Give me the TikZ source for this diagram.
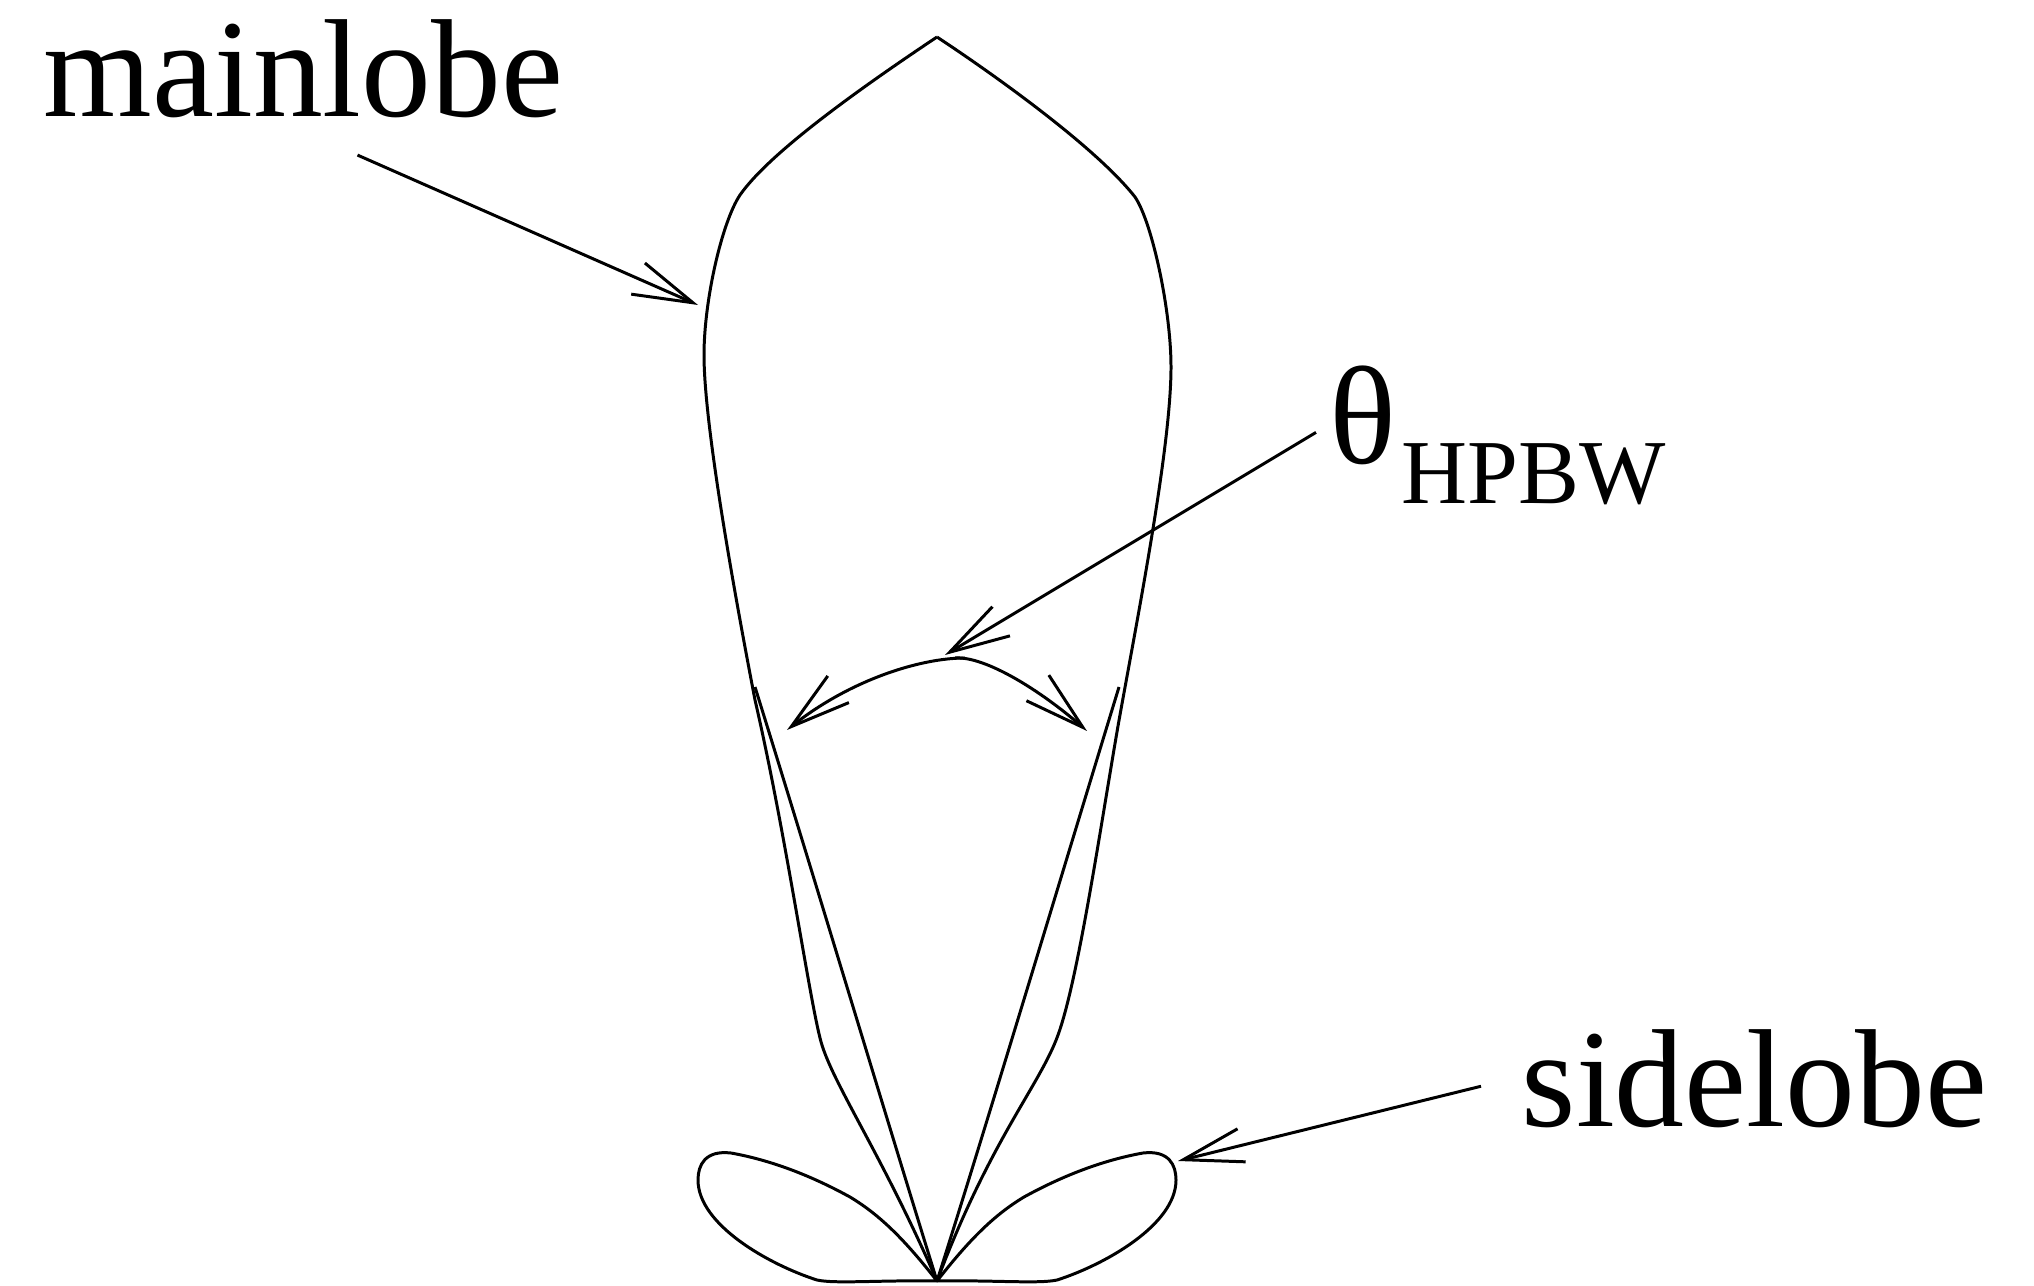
\documentclass[tikz,border=0pt]{standalone}
\usepackage{fontspec}
\setmainfont{Liberation Serif}
\usetikzlibrary{arrows.meta}
\tikzset{
  lobeline/.style={line width=0.85pt,line join=round},
  pointer/.style={lobeline,-{Straight Barb[length=6mm,width=3.4mm,line width=0.85pt]}},
  bigtext/.style={inner sep=0pt,anchor=base west,font=\fontsize{39.7}{47}\selectfont}
}
\begin{document}
\begin{tikzpicture}[x=0.01cm,y=-0.01cm]
\useasboundingbox (0,0) rectangle (2034,1286);

\coordinate (top) at (937,37);
\coordinate (origin) at (937,1281);
\coordinate (maintip) at (698,305);
\coordinate (sidetip) at (1178,1161);
\coordinate (halftip) at (945,655);
\coordinate (leftend) at (787,730);
\coordinate (rightend) at (1087,731);

\node[bigtext] (mainlobe) at (43,117) {mainlobe};
\node[bigtext] (sidelobe) at (1521,1126) {sidelobe};
\node[bigtext] (hpbw) at (1329,464) {θ\hspace{0.05cm}\raisebox{-0.39cm}{\fontsize{26}{30}\selectfont HPBW}};

% main lobe
\draw[lobeline] (top) .. controls (850,95) and (768,155) .. (740,195)
  .. controls (722,222) and (704,300) .. (704,355)
  .. controls (704,420) and (730,570) .. (755,700)
  .. controls (785,830) and (808,990) .. (820,1038)
  .. controls (830,1080) and (880,1150) .. (origin);
\draw[lobeline] (top) .. controls (1005,82) and (1098,150) .. (1135,197)
  .. controls (1152,222) and (1171,310) .. (1171,367)
  .. controls (1171,450) and (1135,630) .. (1118,726)
  .. controls (1100,830) and (1078,980) .. (1058,1035)
  .. controls (1040,1085) and (990,1140) .. (origin);

% side lobes
\draw[lobeline] (origin) .. controls (905,1240) and (880,1215) .. (850,1197)
  .. controls (810,1175) and (770,1160) .. (731,1153)
  .. controls (705,1150) and (698,1165) .. (698,1180)
  .. controls (698,1225) and (770,1265) .. (817,1280)
  .. controls (835,1284) and (880,1280) .. (origin);
\draw[lobeline] (origin) .. controls (969,1240) and (994,1215) .. (1024,1197)
  .. controls (1064,1175) and (1104,1160) .. (1143,1153)
  .. controls (1169,1150) and (1176,1165) .. (1176,1180)
  .. controls (1176,1225) and (1104,1265) .. (1057,1280)
  .. controls (1039,1284) and (994,1280) .. (origin);

% half power lines
\draw[lobeline] (755,687) .. controls (815,880) and (890,1130) .. (origin);
\draw[lobeline] (1119,687) .. controls (1060,880) and (985,1130) .. (origin);

% width arc
\draw[pointer] (965,658) .. controls (920,658) and (850,680) .. (leftend);
\draw[pointer] (955,658) .. controls (985,656) and (1040,690) .. (rightend);

% labels
\draw[pointer] ([xshift=0.54cm,yshift=-0.36cm]mainlobe.south) -- (maintip);
\draw[pointer] ([xshift=-0.4cm,yshift=-0.08cm]sidelobe.west) -- (sidetip);
\draw[pointer] ([xshift=-0.13cm,yshift=0.03cm]hpbw.west) -- (halftip);
\end{tikzpicture}
\end{document}
